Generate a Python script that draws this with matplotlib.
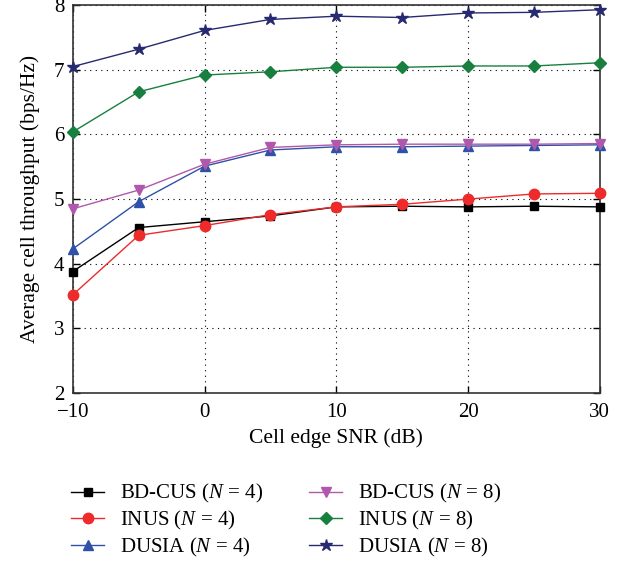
import matplotlib
matplotlib.use("Agg")
import matplotlib.pyplot as plt

plt.rcParams['font.family'] = ['Liberation Serif', 'DejaVu Serif']
plt.rcParams['mathtext.fontset'] = 'custom'
plt.rcParams['mathtext.rm'] = 'Liberation Serif'
plt.rcParams['mathtext.it'] = 'Liberation Serif:italic'

snr = [-10, -5, 0, 5, 10, 15, 20, 25, 30]
bdcus_n4 = [3.88, 4.56, 4.65, 4.74, 4.88, 4.89, 4.88, 4.89, 4.88]
inus_n4 = [3.52, 4.44, 4.59, 4.76, 4.88, 4.92, 5.00, 5.08, 5.09]
dusia_n4 = [4.23, 4.96, 5.51, 5.76, 5.81, 5.81, 5.82, 5.83, 5.84]
bdcus_n8 = [4.85, 5.14, 5.54, 5.80, 5.84, 5.85, 5.85, 5.85, 5.86]
inus_n8 = [6.04, 6.66, 6.92, 6.97, 7.04, 7.04, 7.06, 7.06, 7.11]
dusia_n8 = [7.05, 7.32, 7.61, 7.78, 7.83, 7.81, 7.88, 7.89, 7.93]

labels = [r'BD-CUS ($N$ = 4)', r'INUS ($N$ = 4)', r'DUSIA ($N$ = 4)',
          r'BD-CUS ($N$ = 8)', r'INUS ($N$ = 8)', r'DUSIA ($N$ = 8)']
xticks = [-10, 0, 10, 20, 30]
yticks = [2, 3, 4, 5, 6, 7, 8]

series = [bdcus_n4, inus_n4, dusia_n4, bdcus_n8, inus_n8, dusia_n8]
colors = ['#000000', '#ee2a2a', '#2f52a8', '#b058ac', '#17803e', '#272a70']
markers = ['s', 'o', '^', 'v', 'D', '*']
msizes = [6, 7.5, 7.5, 7.5, 6.5, 9]

fig = plt.figure(figsize=(6.28, 5.62), dpi=100)
ax = fig.add_axes([0.116, 0.3007, 0.839, 0.690])

handles = []
for ys, c, m, ms, lab in zip(series, colors, markers, msizes, labels):
    h, = ax.plot(snr, ys, color=c, marker=m, markersize=ms, linewidth=1.0,
                 markeredgecolor=c, markerfacecolor=c, label=lab, clip_on=False, zorder=3)
    handles.append(h)

ax.set_xlim(-10, 30)
ax.set_ylim(2, 8)
ax.set_xticks(xticks)
ax.set_yticks(yticks)
ax.set_xticklabels([f'{t:d}'.replace('-', '\u2212') for t in xticks])
ax.grid(True, linestyle=(0, (1, 4)), color='black', linewidth=0.8)
ax.tick_params(direction='in', top=True, right=True, labelsize=15, length=5, width=1)
ax.tick_params(axis='x', pad=7)
ax.tick_params(axis='y', pad=6)
for s in ax.spines.values():
    s.set_linewidth(1.2)
    s.set_color('#333333')
ax.set_xlabel('Cell edge SNR (dB)', fontsize=15.5, labelpad=5)
ax.set_ylabel('Average cell throughput (bps/Hz)', fontsize=15.5, labelpad=10)

fig.legend(handles=handles, loc='upper left', bbox_to_anchor=(0.083, 0.175),
           ncol=2, frameon=False, fontsize=15, handlelength=1.6,
           columnspacing=2.2, labelspacing=0.18, handletextpad=0.75)

fig.savefig('out.png', dpi=100)
